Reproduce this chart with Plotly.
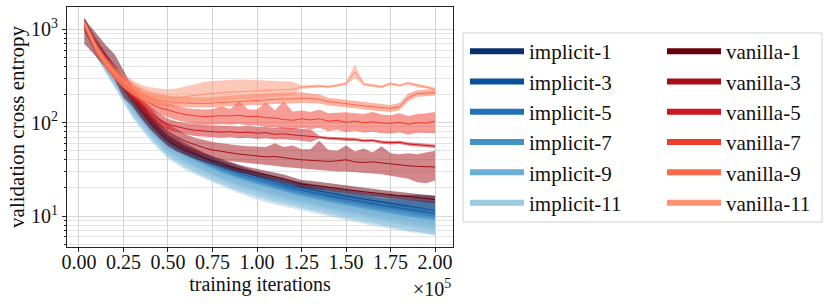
import plotly.graph_objects as go

# ---------------- data ----------------
X_IMP = [3000, 10000, 20000, 30000, 40000, 50000, 60000, 70000, 80000, 90000, 100000,
         110000, 120000, 130000, 140000, 150000, 160000, 170000, 180000, 190000, 200000]

X_VAN = [3000, 10000, 15000, 20000, 25000, 30000, 35000, 40000, 45000, 50000,
         55000, 60000, 65000, 70000, 75000, 80000, 85000, 90000, 95000, 100000,
         105000, 110000, 115000, 120000, 125000, 130000, 135000, 140000, 145000, 150000,
         155000, 160000, 165000, 170000, 175000, 180000, 185000, 190000, 195000, 200000]

IMP_NAMES = ["implicit-1", "implicit-3", "implicit-5", "implicit-7", "implicit-9", "implicit-11"]
VAN_NAMES = ["vanilla-1", "vanilla-3", "vanilla-5", "vanilla-7", "vanilla-9", "vanilla-11"]

BLUES = ["#08306b", "#08519c", "#2171b5", "#4292c6", "#6baed6", "#9ecae1"]
REDS = ["#67000d", "#a50f15", "#cb181d", "#ef3b2c", "#fb6a4a", "#fc9272"]

IMP1_MEAN = [1250, 640, 345, 185, 108, 68, 52, 42, 35, 30.5, 26.5, 23.5, 21, 19.5, 17.8, 16.3, 15.2, 14, 13, 12.2, 11.5]
IMP1_HI = [1350, 720, 400, 215, 125, 78, 60, 48, 40, 34.5, 30, 27, 24, 22, 20.5, 19, 18, 17.2, 16.8, 16.8, 16.5]
IMP1_LO = [1150, 570, 300, 160, 93, 60, 45, 37, 31, 26.5, 23, 20.5, 18.3, 17, 15.4, 14, 13, 12, 11.2, 10.5, 9.8]

IMP3_MEAN = [1230, 620, 330, 175, 100, 63, 48, 39, 33, 28.5, 25, 22, 19.8, 18, 16.5, 15.2, 14, 13, 12.2, 11.3, 10.6]
IMP3_HI = [1320, 700, 380, 200, 116, 73, 56, 45, 38, 32.5, 28.5, 25.5, 23, 21, 19, 17.8, 16.8, 15.5, 15, 14.5, 14.2]
IMP3_LO = [1140, 550, 290, 152, 86, 55, 42, 34, 28.5, 24.5, 21.5, 19, 17, 15.3, 14, 12.8, 11.8, 10.9, 10.2, 9.5, 8.9]

IMP5_MEAN = [1220, 600, 310, 160, 92, 58, 45, 36, 30, 26, 22.5, 20, 18, 16.2, 14.8, 13.5, 12.5, 11.5, 10.7, 10, 9.5]
IMP5_HI = [1300, 680, 355, 185, 106, 67, 52, 42, 35, 30, 26, 23.5, 21, 19, 17.3, 16, 14.8, 13.8, 13, 12.3, 11.8]
IMP5_LO = [1130, 530, 270, 140, 80, 50, 39, 31, 26, 22.5, 19.3, 17, 15.3, 13.8, 12.6, 11.4, 10.5, 9.7, 9, 8.4, 7.9]

IMP7_MEAN = [1210, 590, 295, 150, 86, 54, 42, 34, 28, 24, 21, 18.3, 16.5, 15, 13.5, 12.3, 11.3, 10.5, 9.7, 9, 8.5]
IMP7_HI = [1290, 670, 340, 175, 100, 63, 49, 40, 33, 28.5, 25, 22, 19.5, 17.8, 16, 14.8, 13.6, 12.7, 11.8, 11, 10.5]
IMP7_LO = [1120, 515, 255, 128, 74, 46, 36, 29, 24, 20.5, 17.8, 15.5, 14, 12.7, 11.5, 10.4, 9.5, 8.8, 8.1, 7.5, 7]

IMP9_MEAN = [1200, 575, 285, 140, 80, 51, 39, 31.5, 26, 22, 19.3, 17, 15.2, 13.8, 12.5, 11.3, 10.4, 9.6, 8.8, 8.2, 7.7]
IMP9_HI = [1280, 650, 330, 165, 94, 60, 46, 37.5, 31, 26.5, 23.5, 20.5, 18.3, 16.5, 15, 13.8, 12.7, 11.8, 10.9, 10.2, 9.7]
IMP9_LO = [1110, 500, 245, 118, 68, 43, 33, 26.5, 22, 18.5, 16.2, 14.2, 12.8, 11.6, 10.5, 9.5, 8.7, 8, 7.3, 6.8, 6.3]

IMP11_MEAN = [1190, 560, 275, 132, 76, 48, 37, 30, 24.5, 20.5, 18, 16, 14.2, 12.9, 11.7, 10.6, 9.7, 8.9, 8.2, 7.6, 7.1]
IMP11_HI = [1270, 640, 320, 155, 88, 57, 44, 36, 29.5, 25, 22, 19.5, 17.3, 15.6, 14.2, 13, 12, 11, 10.2, 9.5, 9]
IMP11_LO = [1100, 490, 235, 112, 64, 41, 31, 25.5, 21, 17.5, 15, 13.3, 12, 11, 10, 9, 8.2, 7.6, 7, 6.6, 6.2]

VAN1_MEAN = [1080, 700, 520, 390, 270, 190, 135, 100, 78, 64, 56, 50, 46, 42, 39, 37, 34, 32, 30.5, 29,
             27.5, 26.5, 25, 23.5, 22, 21.5, 21, 20.5, 19.8, 19.2, 18.6, 18.2, 17.8, 17.3, 16.9, 16.5, 16.2, 15.8, 15.3, 15.0]
VAN1_HI = [1300, 880, 680, 540, 360, 240, 165, 118, 90, 74, 64, 57, 52, 47, 43.5, 41, 38, 35.5, 33.5, 32,
           30.5, 29.5, 27.8, 26, 24.3, 23.8, 23.2, 22.6, 21.8, 21.2, 20.6, 20.1, 19.6, 19, 18.6, 18.2, 17.8, 17.4, 16.9, 16.5]
VAN1_LO = [700, 500, 390, 290, 185, 150, 110, 85, 68, 56, 49, 44.5, 41, 38, 35.5, 33.5, 31, 29.3, 28, 26.8,
           25.2, 24.2, 23, 21.6, 20.2, 19.8, 19.2, 18.8, 18.2, 17.6, 17.1, 16.7, 16.3, 15.9, 15.5, 15.1, 14.8, 14.4, 14, 13.7]

VAN3_MEAN = [1100, 650, 470, 350, 265, 200, 150, 118, 95, 80, 70, 63, 58, 54, 51, 49, 47.5, 46, 45, 44,
             43, 43.5, 42, 41, 40, 39.5, 39, 38.5, 39, 40, 38, 37.5, 38, 37, 36.5, 35, 34.5, 34, 33.5, 33.5]
VAN3_HI = [1250, 780, 560, 420, 310, 235, 178, 140, 113, 96, 84, 75, 69, 65, 62, 60, 58, 57, 56, 55,
           55, 60, 55, 57, 52, 52, 64, 51, 50, 57, 49, 53, 48, 56, 47, 46, 47, 46, 48, 50]
VAN3_LO = [950, 540, 390, 290, 225, 170, 127, 100, 80, 67, 58, 52, 48, 44.5, 42, 40, 38.5, 37.5, 37, 36,
           35, 34.5, 33.5, 33, 32, 31.5, 31, 30.5, 30, 30, 29.5, 29, 28.5, 28, 27, 26, 25, 23, 22.5, 24]

VAN5_MEAN = [1120, 620, 450, 340, 265, 205, 160, 128, 108, 96, 90, 86, 83, 81, 80, 79, 80, 78, 79, 77,
             78, 75, 76, 74, 73, 71, 70, 68, 67.5, 66, 66, 64, 64.5, 62, 61, 61.5, 59, 58, 57.5, 56]
VAN5_HI = [1230, 700, 510, 390, 300, 235, 185, 150, 125, 110, 103, 99, 96, 94, 93, 92, 92, 91, 92, 90,
           90, 88, 89, 87, 86, 85, 72.5, 70.5, 70, 68.5, 68.5, 66.5, 67, 64.5, 63.5, 64, 61.5, 60.5, 60, 58.5]
VAN5_LO = [1000, 540, 395, 295, 230, 178, 138, 110, 93, 84, 79, 75, 72, 71, 70, 69, 70, 68, 69, 67,
           68, 66, 66.5, 65, 64, 62, 67.5, 65.5, 65, 63.5, 63.5, 61.5, 62, 59.5, 58.5, 59, 56.5, 55.5, 55, 53.5]

VAN7_MEAN = [1140, 610, 440, 335, 270, 220, 185, 160, 145, 135, 128, 122, 118, 116, 117, 119, 118, 120, 116, 117,
             113, 112, 108, 106, 110, 107, 110, 104, 106, 101, 104, 100, 102, 99, 98, 101, 96, 100, 99, 104]
VAN7_HI = [1260, 690, 500, 380, 310, 258, 218, 190, 172, 160, 150, 143, 140, 138, 139, 150, 140, 170, 138, 138,
           165, 136, 170, 132, 135, 130, 138, 126, 128, 129, 126, 124, 130, 122, 120, 126, 118, 124, 126, 130]
VAN7_LO = [1020, 530, 385, 290, 232, 188, 158, 136, 123, 114, 106, 100, 96, 94, 95, 96, 95, 97, 93, 94,
           90, 90, 86, 84, 88, 85, 88, 81, 84, 79, 82, 78, 80, 77, 76, 79, 74, 78, 77, 77]

VAN9_MEAN = [1160, 600, 430, 330, 270, 228, 200, 185, 175, 168, 165, 162, 160, 160, 162, 165, 168, 170, 172, 175,
             176, 178, 180, 180, 183, 182, 178, 168, 165, 160, 155, 152, 148, 145, 142, 148, 185, 205, 208, 210]
VAN9_HI = [1270, 670, 480, 370, 305, 265, 235, 215, 205, 195, 190, 188, 186, 186, 188, 192, 195, 198, 200, 203,
           205, 208, 210, 210, 212, 205, 200, 185, 180, 175, 170, 166, 162, 158, 155, 162, 205, 222, 225, 230]
VAN9_LO = [1050, 530, 380, 290, 235, 196, 172, 160, 155, 150, 148, 146, 145, 145, 146, 148, 150, 152, 153, 155,
           156, 158, 160, 160, 163, 162, 160, 153, 150, 146, 142, 139, 135, 132, 130, 136, 170, 190, 192, 195]

VAN11_MEAN = [1180, 620, 450, 345, 280, 240, 210, 195, 188, 185, 186, 190, 196, 202, 206, 210, 212, 215, 216, 218,
              218, 220, 222, 228, 240, 245, 247, 242, 250, 262, 350, 258, 250, 242, 262, 250, 265, 250, 240, 228]
VAN11_HI = [1300, 700, 510, 400, 330, 285, 255, 240, 232, 228, 232, 245, 260, 272, 280, 285, 288, 290, 288, 285,
            282, 280, 278, 275, 252, 254, 256, 250, 258, 272, 420, 268, 258, 250, 272, 258, 274, 262, 248, 238]
VAN11_LO = [1060, 540, 390, 295, 235, 200, 175, 163, 157, 155, 155, 158, 162, 165, 170, 172, 176, 180, 182, 185,
            188, 190, 192, 195, 230, 236, 238, 234, 242, 252, 300, 248, 242, 234, 252, 242, 256, 238, 232, 218]

X_TICKS = [0, 25000, 50000, 75000, 100000, 125000, 150000, 175000, 200000]
X_TICK_TEXT = ["0.00", "0.25", "0.50", "0.75", "1.00", "1.25", "1.50", "1.75", "2.00"]
Y_TICKS = [10, 100, 1000]
Y_TICK_TEXT = ["10<sup>1</sup>", "10<sup>2</sup>", "10<sup>3</sup>"]

# ---------------- figure ----------------
def rgba(h, a):
    h = h.lstrip("#")
    return "rgba(%d,%d,%d,%.2f)" % (int(h[0:2], 16), int(h[2:4], 16), int(h[4:6], 16), a)

IMP = [(X_IMP, IMP1_MEAN, IMP1_LO, IMP1_HI), (X_IMP, IMP3_MEAN, IMP3_LO, IMP3_HI),
       (X_IMP, IMP5_MEAN, IMP5_LO, IMP5_HI), (X_IMP, IMP7_MEAN, IMP7_LO, IMP7_HI),
       (X_IMP, IMP9_MEAN, IMP9_LO, IMP9_HI), (X_IMP, IMP11_MEAN, IMP11_LO, IMP11_HI)]
VAN = [(X_VAN, VAN1_MEAN, VAN1_LO, VAN1_HI), (X_VAN, VAN3_MEAN, VAN3_LO, VAN3_HI),
       (X_VAN, VAN5_MEAN, VAN5_LO, VAN5_HI), (X_VAN, VAN7_MEAN, VAN7_LO, VAN7_HI),
       (X_VAN, VAN9_MEAN, VAN9_LO, VAN9_HI), (X_VAN, VAN11_MEAN, VAN11_LO, VAN11_HI)]

fig = go.Figure()
for group, colors in [(IMP, BLUES), (VAN, REDS)]:
    for (xs, m, lo, hi), c in zip(group, colors):
        fig.add_trace(go.Scatter(x=xs + xs[::-1], y=hi + lo[::-1], mode="lines", fill="toself",
                                 fillcolor=rgba(c, 0.5), line=dict(width=0), hoverinfo="skip",
                                 showlegend=False))
        fig.add_trace(go.Scatter(x=xs, y=m, mode="lines", line=dict(color=c, width=1),
                                 showlegend=False))

# legend entries: two legends (columns)
for names, colors, lg in [(IMP_NAMES, BLUES, "legend"), (VAN_NAMES, REDS, "legend2")]:
    for name, c in zip(names, colors):
        fig.add_trace(go.Scatter(x=[None], y=[None], mode="lines", name=name, legend=lg,
                                 line=dict(color=c, width=6)))

FONT = "Liberation Serif"
minor_vals = [v * d for d in (1, 10, 100, 1000) for v in (2, 3, 4, 5, 6, 7, 8, 9)]

W, H = 830, 306
PL, PR, PT, PB = 67, 453, 7, 247

def px_to_paper_x(px):
    return (px - PL) / (PR - PL)

def px_to_paper_y(py):
    return (PB - py) / (PB - PT)

legend_common = dict(orientation="v", xref="container", yref="container", xanchor="left",
                     yanchor="top", borderwidth=0, bgcolor="rgba(0,0,0,0)",
                     font=dict(family=FONT, size=21, color="#111"), itemwidth=54,
                     tracegroupgap=0, maxheight=400)

fig.update_layout(
    width=W, height=H,
    margin=dict(l=PL, r=W - PR, t=PT, b=H - PB),
    plot_bgcolor="white", paper_bgcolor="white",
    font=dict(family=FONT, size=20, color="#111"),
    showlegend=True,
    legend=dict(x=465 / W, y=1 - 31 / H, **legend_common),
    legend2=dict(x=662 / W, y=1 - 31 / H, **legend_common),
    xaxis=dict(range=[-6730, 210100], tickvals=X_TICKS, ticktext=X_TICK_TEXT, automargin=False,
               ticks="outside", ticklen=4, tickcolor="#222", showline=True, mirror=True,
               ticklabelstandoff=-7,
               linecolor="#222", linewidth=1.2, showgrid=True, gridcolor="#d2d2d2", gridwidth=1,
               zeroline=False,
               title=dict(text="training iterations", standoff=1,
                          font=dict(family=FONT, size=20))),
    yaxis=dict(type="log", range=[0.668, 3.239], tickvals=Y_TICKS, ticktext=Y_TICK_TEXT,
               automargin=False,
               ticks="outside", ticklen=4, tickcolor="#222", showline=True, mirror=True,
               linecolor="#222", linewidth=1.2, showgrid=True, gridcolor="#d8d8d8", gridwidth=1,
               zeroline=False,
               minor=dict(tickmode="array", tickvals=minor_vals, ticks="outside", ticklen=2,
                          tickcolor="#222", showgrid=True, gridcolor="#e4e4e4", gridwidth=1),
               title=dict(text="validation cross entropy", standoff=0,
                          font=dict(family=FONT, size=21))),
    shapes=[dict(type="rect", xref="paper", yref="paper",
                 x0=px_to_paper_x(463), x1=px_to_paper_x(822),
                 y0=px_to_paper_y(222), y1=px_to_paper_y(33),
                 line=dict(color="#d0d0d0", width=1), fillcolor="rgba(0,0,0,0)")],
    annotations=[dict(text="×10<sup>5</sup>", xref="paper", yref="paper", x=1.0,
                      y=px_to_paper_y(288), xanchor="right", yanchor="middle", showarrow=False,
                      font=dict(family=FONT, size=20))],
)

fig.write_html("out.html", config={"displayModeBar": False},
               post_script="document.body.style.margin='0px';document.body.style.padding='0px';")
